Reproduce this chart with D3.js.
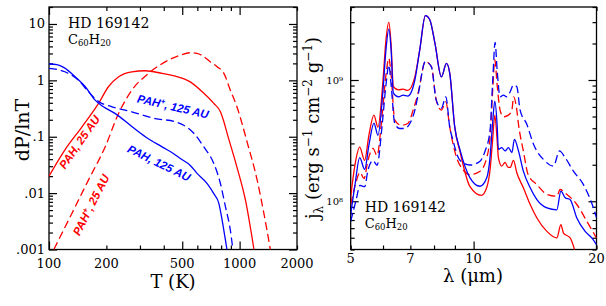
<!DOCTYPE html>
<html>
<head>
<meta charset="utf-8">
<script src="https://cdn.jsdelivr.net/npm/d3@7"></script>
<style>
  body { margin: 0; background: #fff; }
  svg { display: block; }
  .serif { font-family: 'DejaVu Serif', serif; fill: #000; }
  .curve-label { font-family: 'Liberation Sans', Arial, sans-serif; font-style: italic; font-weight: bold; font-size: 11.5px; }
</style>
</head>
<body>
<svg id="chart" width="606" height="306"></svg>
<script>
// left panel: temperature distributions dP/dlnT
const tPah125 = [100, 110, 120, 137, 155, 174, 193, 222, 273, 320, 392, 451, 489, 551, 598, 676, 732, 778, 810, 843, 858];
const pPah125 = [1.95, 1.9, 1.68, 1.16, 0.77, 0.45, 0.34, 0.26, 0.15, 0.10, 0.066, 0.05, 0.041, 0.031, 0.0224, 0.0148, 0.0098, 0.0066, 0.0033, 0.00145, 0.001];

const tIon125 = [100, 121, 143, 161, 182, 214, 272, 361, 460, 509, 575, 649, 732, 793, 843, 894, 922];
const pIon125 = [1.63, 1.42, 1.0, 0.63, 0.42, 0.34, 0.277, 0.21, 0.184, 0.16, 0.115, 0.066, 0.0336, 0.0148, 0.0057, 0.0022, 0.001];

const tPah25 = [100, 121, 149, 182, 205, 232, 272, 320, 392, 460, 551, 649, 732, 793, 827, 860, 968, 1074, 1189];
const pPah25 = [0.02, 0.058, 0.15, 0.39, 0.77, 1.16, 1.42, 1.48, 1.33, 1.19, 0.94, 0.59, 0.39, 0.277, 0.184, 0.115, 0.029, 0.0074, 0.001];

const tIon25 = [106, 132, 161, 197, 232, 272, 333, 442, 489, 551, 598, 649, 700, 761, 827, 894, 968, 1100, 1236, 1340, 1450];
const pIon25 = [0.001, 0.0044, 0.017, 0.066, 0.26, 0.67, 1.33, 2.45, 2.81, 3.09, 3.02, 2.63, 2.14, 1.75, 1.33, 0.67, 0.34, 0.076, 0.017, 0.0044, 0.001];

// right panel: emissivity j_lambda
const lamPah25 = [5.0, 5.12, 5.26, 5.41, 5.54, 5.70, 5.83, 6.0, 6.10, 6.20, 6.28, 6.36, 6.55, 6.72, 6.9, 7.18, 7.38, 7.62, 7.81, 8.04, 8.34, 8.58, 8.74, 8.99, 9.27, 9.80, 10.45, 10.77, 10.97, 11.13, 11.27, 11.42, 11.50, 11.72, 11.94, 12.15, 12.29, 12.52, 12.76, 13.24, 13.76, 14.29, 15.12, 15.99, 16.36, 16.60, 17.24, 17.73];
const jPah25 = [1.09e8, 1.98e8, 2.79e8, 2.17e8, 3.5e8, 5.13e8, 4.08e8, 1.0e9, 2.14e9, 2.99e9, 1.95e9, 8.8e8, 8.3e8, 8.4e8, 8.2e8, 1.06e9, 1.77e9, 3.39e9, 3.14e9, 2.01e9, 1.06e9, 1.37e9, 1.14e9, 4.10e8, 2.53e8, 1.32e8, 1.12e8, 1.30e8, 1.80e8, 3.18e8, 5.13e8, 3.18e8, 2.29e8, 1.95e8, 2.09e8, 1.90e8, 1.90e8, 2.17e8, 1.72e8, 1.29e8, 9.4e7, 7.28e7, 5.64e7, 4.98e7, 6.41e7, 5.47e7, 4.98e7, 3.85e7];

const lamPah125 = [5.0, 5.12, 5.26, 5.41, 5.54, 5.70, 5.83, 6.0, 6.10, 6.20, 6.28, 6.36, 6.55, 6.72, 6.9, 7.18, 7.38, 7.62, 7.81, 8.04, 8.34, 8.58, 8.74, 8.99, 9.27, 9.80, 10.37, 10.77, 10.97, 11.13, 11.27, 11.42, 11.50, 11.72, 11.94, 12.17, 12.41, 12.59, 12.88, 13.24, 13.76, 14.29, 15.12, 15.99, 16.36, 16.76, 17.24, 17.90, 18.76, 19.48, 20.0];
const jPah125 = [7.76e7, 1.35e8, 2.29e8, 1.83e8, 2.89e8, 4.41e8, 3.5e8, 8.3e8, 1.77e9, 2.63e9, 1.77e9, 7.8e8, 7.27e8, 7.5e8, 7.37e8, 1.0e9, 1.77e9, 3.39e9, 3.14e9, 2.01e9, 1.06e9, 1.37e9, 1.14e9, 4.10e8, 2.63e8, 1.56e8, 1.33e8, 1.56e8, 2.29e8, 4.4e8, 6.7e8, 4.24e8, 2.68e8, 2.77e8, 2.60e8, 2.77e8, 2.52e8, 3.24e8, 2.60e8, 1.77e8, 1.29e8, 1.03e8, 8.8e7, 8.5e7, 1.21e8, 1.07e8, 1.03e8, 7.28e7, 5.64e7, 4.98e7, 4.38e7];

const lamIon25 = [5.0, 5.15, 5.27, 5.39, 5.51, 5.67, 5.80, 5.97, 6.10, 6.20, 6.28, 6.41, 6.65, 6.90, 7.11, 7.31, 7.62, 7.88, 8.10, 8.34, 8.55, 8.74, 9.07, 9.43, 9.80, 10.37, 10.77, 10.97, 11.14, 11.27, 11.42, 11.61, 11.83, 12.17, 12.41, 12.53, 12.76, 12.88, 13.24, 13.6, 14.29, 15.12, 15.99, 16.29, 16.76, 17.90, 18.94, 20.0];
const jIon25 = [9.4e7, 1.43e8, 1.73e8, 1.54e8, 2.17e8, 2.73e8, 2.39e8, 5.13e8, 1.1e9, 1.51e9, 1.1e9, 4.66e8, 4.24e8, 4.38e8, 5.64e8, 7.76e8, 1.42e9, 1.29e9, 6.83e8, 5.64e8, 6.61e8, 4.10e8, 2.33e8, 1.81e8, 1.66e8, 1.77e8, 2.29e8, 3.35e8, 8.3e8, 1.47e9, 9.1e8, 5.64e8, 4.97e8, 5.13e8, 5.64e8, 7.27e8, 5.64e8, 4.32e8, 2.6e8, 1.66e8, 1.37e8, 1.14e8, 1.10e8, 1.25e8, 1.17e8, 9.4e7, 6.83e7, 4.98e7];

const lamIon125 = [5.0, 5.15, 5.27, 5.41, 5.51, 5.67, 5.80, 5.97, 6.10, 6.20, 6.28, 6.41, 6.59, 6.78, 6.98, 7.18, 7.31, 7.62, 7.88, 8.10, 8.34, 8.55, 8.74, 8.90, 9.25, 9.79, 10.37, 10.67, 10.97, 11.14, 11.29, 11.42, 11.61, 11.83, 12.06, 12.29, 12.52, 12.76, 13.0, 13.50, 14.02, 14.83, 15.69, 16.23, 16.76, 17.56, 18.58, 19.66, 20.0];
const jIon125 = [6.83e7, 1.01e8, 1.35e8, 1.32e8, 1.80e8, 2.17e8, 1.98e8, 4.24e8, 9.1e8, 1.33e9, 9.1e8, 4.38e8, 3.98e8, 3.98e8, 4.38e8, 5.64e8, 7.5e8, 1.42e9, 1.29e9, 6.83e8, 5.86e8, 7.27e8, 4.10e8, 3.18e8, 2.19e8, 1.99e8, 2.14e8, 2.60e8, 3.80e8, 1.0e9, 2.04e9, 1.21e9, 7.27e8, 7.5e8, 7.27e8, 8.0e8, 9.1e8, 8.8e8, 5.64e8, 4.32e8, 2.95e8, 2.21e8, 1.95e8, 2.60e8, 2.29e8, 1.77e8, 1.37e8, 8.8e7, 7.33e7];

// tick labels
const tempLabels = [100, 200, 500, 1000, 2000];
const dpLabels = [[10, '10'], [1, '1'], [0.1, '.1'], [0.01, '.01'], [0.001, '.001']];
const lamLabels = [5, 7, 10, 20];
const jLabels = [[1e8, '10⁸'], [1e9, '10⁹']];

const RED = '#ff0000';
const BLUE = '#0000ff';

const svg = d3.select('#chart');

const xT = d3.scaleLog().domain([100, 2000]).range([49, 297]);
const yP = d3.scaleLog().domain([0.001, 20]).range([249.5, 7]);
const xL = d3.scaleLog().domain([5, 20]).range([350.7, 596.5]);
const yJ = d3.scaleLog().domain([4e7, 4e9]).range([249.5, 7]);

function isDecade(v) {
  let l = Math.log10(v);
  return Math.abs(l - Math.round(l)) < 1e-6;
}

function drawFrame(x, y, xMajor, yMajor, clipId) {
  let [x0, x1] = x.range();
  let [y1, y0] = y.range();
  let g = svg.append('g');

  let sides = [
    { axis: d3.axisBottom(x), at: `translate(0,${y1})`, attr: 'y2', sign: -1, vals: x.ticks(), major: xMajor },
    { axis: d3.axisTop(x), at: `translate(0,${y0})`, attr: 'y2', sign: 1, vals: x.ticks(), major: xMajor },
    { axis: d3.axisLeft(y), at: `translate(${x0},0)`, attr: 'x2', sign: 1, vals: y.ticks(), major: yMajor },
    { axis: d3.axisRight(y), at: `translate(${x1},0)`, attr: 'x2', sign: -1, vals: y.ticks(), major: yMajor },
  ];

  sides.forEach((s) => {
    let a = g.append('g')
      .attr('transform', s.at)
      .call(s.axis.tickValues(s.vals).tickFormat(''));
    a.select('.domain').remove();
    a.selectAll('.tick line')
      .attr(s.attr, (d) => s.sign * (s.major(d) ? 8 : 4))
      .attr('stroke', '#000')
      .attr('stroke-width', 1.2);
  });

  g.append('rect')
    .attr('x', x0).attr('y', y0)
    .attr('width', x1 - x0).attr('height', y1 - y0)
    .attr('fill', 'none')
    .attr('stroke', '#000')
    .attr('stroke-width', 1.3);

  svg.append('clipPath').attr('id', clipId)
    .append('rect')
    .attr('x', x0).attr('y', y0)
    .attr('width', x1 - x0).attr('height', y1 - y0);
}

function drawCurve(x, y, xs, ys, color, dashed, clipId) {
  let pts = xs.map((v, i) => [v, ys[i]]);
  let line = d3.line()
    .x((d) => x(d[0]))
    .y((d) => y(d[1]))
    .curve(d3.curveMonotoneX);

  svg.append('path')
    .attr('d', line(pts))
    .attr('fill', 'none')
    .attr('stroke', color)
    .attr('stroke-width', 1.3)
    .attr('stroke-dasharray', dashed ? '8,4' : null)
    .attr('clip-path', `url(#${clipId})`);
}

function starName(x, y) {
  svg.append('text').attr('class', 'serif')
    .attr('x', x).attr('y', y)
    .attr('font-size', 14)
    .text('HD 169142');

  let t = svg.append('text').attr('class', 'serif')
    .attr('x', x).attr('y', y + 16)
    .attr('font-size', 13);
  t.append('tspan').text('C');
  t.append('tspan').attr('font-size', 8.5).attr('dy', 2.5).text('60');
  t.append('tspan').attr('dy', -2.5).text('H');
  t.append('tspan').attr('font-size', 8.5).attr('dy', 2.5).text('20');
}

function curveLabel(cx, cy, angle, color, parts) {
  let t = svg.append('text')
    .attr('class', 'curve-label')
    .attr('fill', color)
    .attr('text-anchor', 'middle')
    .attr('transform', `translate(${cx},${cy}) rotate(${angle})`)
    .attr('dy', '0.35em');
  parts.forEach(([txt, sup]) => {
    let s = t.append('tspan').text(txt);
    if (sup) s.attr('font-size', 8).attr('dy', -4);
    else if (t.selectAll('tspan').size() > 1) s.attr('dy', 4);
  });
}

// ---- left panel ----
drawFrame(xT, yP, (d) => isDecade(d) || d === 500, isDecade, 'clipL');

drawCurve(xT, yP, tPah25, pPah25, RED, false, 'clipL');
drawCurve(xT, yP, tIon25, pIon25, RED, true, 'clipL');
drawCurve(xT, yP, tPah125, pPah125, BLUE, false, 'clipL');
drawCurve(xT, yP, tIon125, pIon125, BLUE, true, 'clipL');

svg.append('g').selectAll('text')
  .data(tempLabels)
  .join('text')
  .attr('class', 'serif')
  .attr('x', (d) => xT(d))
  .attr('y', 268)
  .attr('font-size', 13)
  .attr('text-anchor', 'middle')
  .text((d) => d);

svg.append('g').selectAll('text')
  .data(dpLabels)
  .join('text')
  .attr('class', 'serif')
  .attr('x', 45)
  .attr('y', (d) => yP(d[0]) + 4.5)
  .attr('font-size', 13)
  .attr('text-anchor', 'end')
  .text((d) => d[1]);

svg.append('text').attr('class', 'serif')
  .attr('x', 173).attr('y', 288)
  .attr('font-size', 18)
  .attr('text-anchor', 'middle')
  .text('T (K)');

svg.append('text').attr('class', 'serif')
  .attr('transform', 'translate(29,130) rotate(-90)')
  .attr('font-size', 19)
  .attr('text-anchor', 'middle')
  .text('dP/lnT');

starName(68, 27.5);

curveLabel(173, 106.5, 13, BLUE, [['PAH'], ['+', true], [', 125 AU']]);
curveLabel(159, 163, 26, BLUE, [['PAH, 125 AU']]);
curveLabel(79.5, 142, -55, RED, [['PAH, 25 AU']]);
curveLabel(91, 205, -63, RED, [['PAH'], ['+', true], [', 25 AU']]);

// ---- right panel ----
drawFrame(xL, yJ, isDecade, isDecade, 'clipR');

drawCurve(xL, yJ, lamIon25, jIon25, RED, true, 'clipR');
drawCurve(xL, yJ, lamIon125, jIon125, BLUE, true, 'clipR');
drawCurve(xL, yJ, lamPah25, jPah25, RED, false, 'clipR');
drawCurve(xL, yJ, lamPah125, jPah125, BLUE, false, 'clipR');

svg.append('g').selectAll('text')
  .data(lamLabels)
  .join('text')
  .attr('class', 'serif')
  .attr('x', (d) => xL(d))
  .attr('y', 263)
  .attr('font-size', 13)
  .attr('text-anchor', 'middle')
  .text((d) => d);

svg.append('g').selectAll('text')
  .data(jLabels)
  .join('text')
  .attr('class', 'serif')
  .attr('x', 343)
  .attr('y', (d) => yJ(d[0]) + 4)
  .attr('font-size', 10)
  .attr('text-anchor', 'end')
  .text((d) => d[1]);

svg.append('text').attr('class', 'serif')
  .attr('x', 473).attr('y', 282)
  .attr('font-size', 18)
  .attr('text-anchor', 'middle')
  .text('λ (μm)');

let jl = svg.append('text').attr('class', 'serif')
  .attr('transform', 'translate(319,128) rotate(-90)')
  .attr('font-size', 18)
  .attr('text-anchor', 'middle');
jl.append('tspan').text('j');
jl.append('tspan').attr('font-size', 12).attr('dy', 4).text('λ');
jl.append('tspan').attr('dy', -4).text(' (erg s');
jl.append('tspan').attr('font-size', 12).attr('dy', -7).text('−1');
jl.append('tspan').attr('dy', 7).text(' cm');
jl.append('tspan').attr('font-size', 12).attr('dy', -7).text('−2');
jl.append('tspan').attr('dy', 7).text(' g');
jl.append('tspan').attr('font-size', 12).attr('dy', -7).text('−1');
jl.append('tspan').attr('dy', 7).text(')');

starName(364.7, 211.5);
</script>
</body>
</html>
